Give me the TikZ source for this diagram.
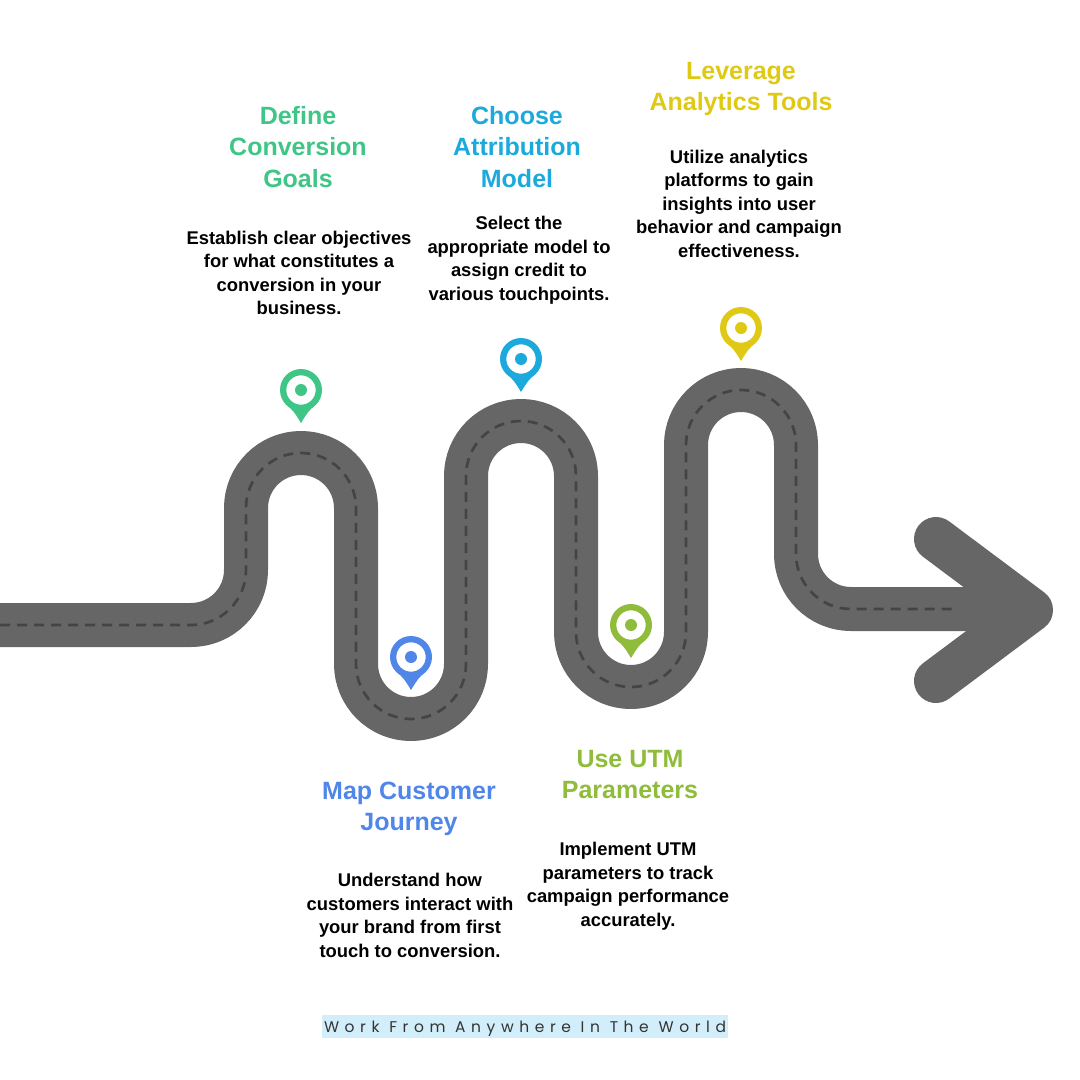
\documentclass[tikz,border=0pt]{standalone}
\usepackage{fontspec}
\setmainfont{Liberation Sans}
\newfontfamily\tagfont[LetterSpace=36]{Poppins}
\usepackage{xcolor}

\definecolor{roadgray}{HTML}{666666}
\definecolor{dashgray}{HTML}{444444}
\definecolor{goalgreen}{HTML}{3FC586}
\definecolor{mapblue}{HTML}{4F86E8}
\definecolor{modelcyan}{HTML}{1CA9DC}
\definecolor{utmolive}{HTML}{8FBC3A}
\definecolor{toolyellow}{HTML}{E0C914}
\definecolor{tagblue}{HTML}{D3EEFB}

\tikzset{
  head/.style={align=center, font=\bfseries\fontsize{25}{31.2}\selectfont},
  body/.style={align=center, text=black, font=\bfseries\fontsize{18.4}{23.5}\selectfont},
  road/.style={draw=roadgray, line width=44pt, line join=round, line cap=round},
}

\begin{document}
\begin{tikzpicture}[x=1pt, y=-1pt]
	\useasboundingbox (0,0) rectangle (1080,1080);

	% road, then the arrow head on top of it
	\draw[road, line cap=butt, rounded corners=55pt]
		(0,625) -- (246,625) -- (246,453) -- (356,453) -- (356,719) -- (466,719)
		-- (466,421) -- (576,421) -- (576,687) -- (686,687) -- (686,390)
		-- (796,390) -- (796,609) -- (1010,609);
	\draw[road] (936,539) -- (1031,610) -- (936,681);

	% middle line
	\draw[dashgray, line width=2.7pt, dash pattern=on 10pt off 7pt, rounded corners=55pt]
		(0,625) -- (246,625) -- (246,453) -- (356,453) -- (356,719) -- (466,719)
		-- (466,421) -- (576,421) -- (576,687) -- (686,687) -- (686,390)
		-- (796,390) -- (796,609) -- (952,609);

	% pins
	\foreach \px/\py/\pc in {301/390/goalgreen, 411/657/mapblue, 521/359/modelcyan,
		631/625/utmolive, 741/328/toolyellow}{
		\begin{scope}[shift={(\px,\py)}]
			\fill[\pc] (-15,14.5) .. controls (-9,19) and (-6,23) .. (0,33)
				.. controls (6,23) and (9,19) .. (15,14.5) -- cycle;
			\fill[white] (0,0) circle [radius=15];
			\fill[\pc, even odd rule] (0,0) circle [radius=21] (0,0) circle [radius=14.7];
			\fill[\pc] (0,0) circle [radius=6];
		\end{scope}
	}

	\node[head, text=goalgreen] (goalhead) at (298,147) {Define\\Conversion\\Goals};
	\node[body] (goalbody) at (299,273) {Establish clear objectives\\for what constitutes a\\conversion in your\\business.};

	\node[head, text=modelcyan] (modelhead) at (517,147) {Choose\\Attribution\\Model};
	\node[body] (modelbody) at (519,260) {Select the\\appropriate model to\\assign credit to\\various touchpoints.};

	\node[head, text=toolyellow] (toolhead) at (741,89) {Leverage\\Analytics Tools};
	\node[body] (toolbody) at (739,203.5) {Utilize analytics\\platforms to gain\\insights into user\\behavior and campaign\\effectiveness.};

	\node[head, text=mapblue] (maphead) at (409,808.5) {Map Customer\\Journey};
	\node[body] (mapbody) at (410,915.5) {Understand how\\customers interact with\\your brand from first\\touch to conversion.};

	\node[head, text=utmolive] (utmhead) at (630,774.5) {Use UTM\\Parameters};
	\node[body] (utmbody) at (628,886) {Implement UTM\\parameters to track\\campaign performance\\accurately.};

	% footer
	\fill[tagblue] (322,1015) rectangle (728,1038);
	\node[text=black!80, font=\tagfont\fontsize{15.5}{18}\selectfont] (tagline) at (525,1029) {Work From Anywhere In The World};
\end{tikzpicture}
\end{document}
